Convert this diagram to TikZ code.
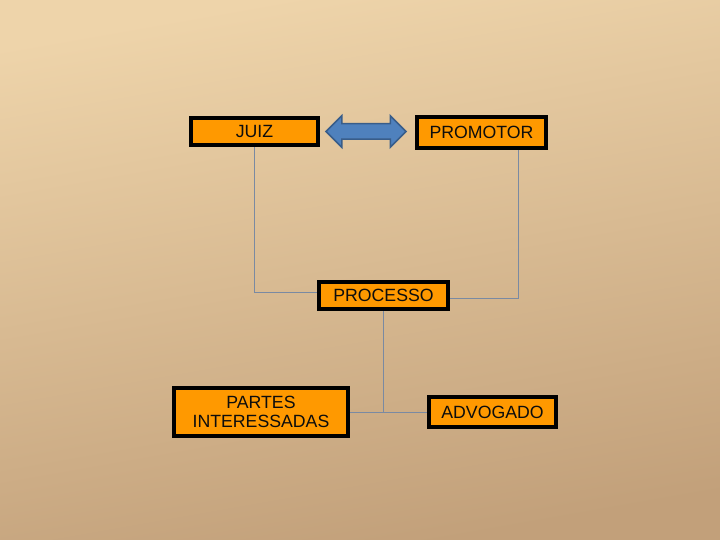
\documentclass[tikz,border=0pt]{standalone}
\usepackage{fontspec}
\setmainfont{Liberation Sans}
\usetikzlibrary{shapes.arrows}
\definecolor{fundoalto}{RGB}{238,212,170}
\definecolor{fundobaixo}{RGB}{194,160,122}
\definecolor{laranja}{RGB}{255,153,0}
\definecolor{azulseta}{RGB}{79,129,189}
\definecolor{azulborda}{RGB}{56,93,138}
\definecolor{cinzalinha}{RGB}{122,138,162}
\tikzset{
  caixa/.style={draw=black, line width=3.8pt, fill=laranja, text=black!95,
    inner sep=0pt, font=\fontsize{17.7}{20}\selectfont},
  linha/.style={draw=cinzalinha, line width=1pt}
}
\begin{document}
\begin{tikzpicture}[x=1pt,y=-1pt]
\shade[top color=fundoalto, bottom color=fundobaixo, shading angle=10] (0,0) rectangle (720,540);
\useasboundingbox (0,0) rectangle (720,540);
\node[caixa, minimum width=127.5pt, minimum height=27.5pt] (juiz) at (254.5,131.5) {JUIZ};
\node[caixa, minimum width=129.5pt, minimum height=31.5pt] (promotor) at (481.5,132.5) {PROMOTOR};
\node[caixa, minimum width=129.5pt, minimum height=27.5pt] (processo) at (383.5,295.5) {PROCESSO};
\node[caixa, minimum width=174.5pt, minimum height=48.5pt, align=center] (partes) at (261,412) {PARTES\\[-1pt]INTERESSADAS};
\node[caixa, minimum width=127.5pt, minimum height=30.5pt] (advogado) at (492.5,412) {ADVOGADO};
\node[double arrow, fill=azulseta, draw=azulborda, line width=1.5pt,
  minimum height=80pt, inner xsep=0pt, inner ysep=7pt,
  double arrow head extend=8pt] (seta) at (366,131.5) {};
% ligacoes
\draw[linha] (juiz.south) |- ([yshift=3.5pt]processo.west);
\draw[linha] ([xshift=36.5pt]promotor.south) |- ([yshift=-2.5pt]processo.east);
\draw[linha] (processo.south) -- (processo.south |- partes.east);
\draw[linha] (partes.east) -- (advogado.west);
\end{tikzpicture}
\end{document}
